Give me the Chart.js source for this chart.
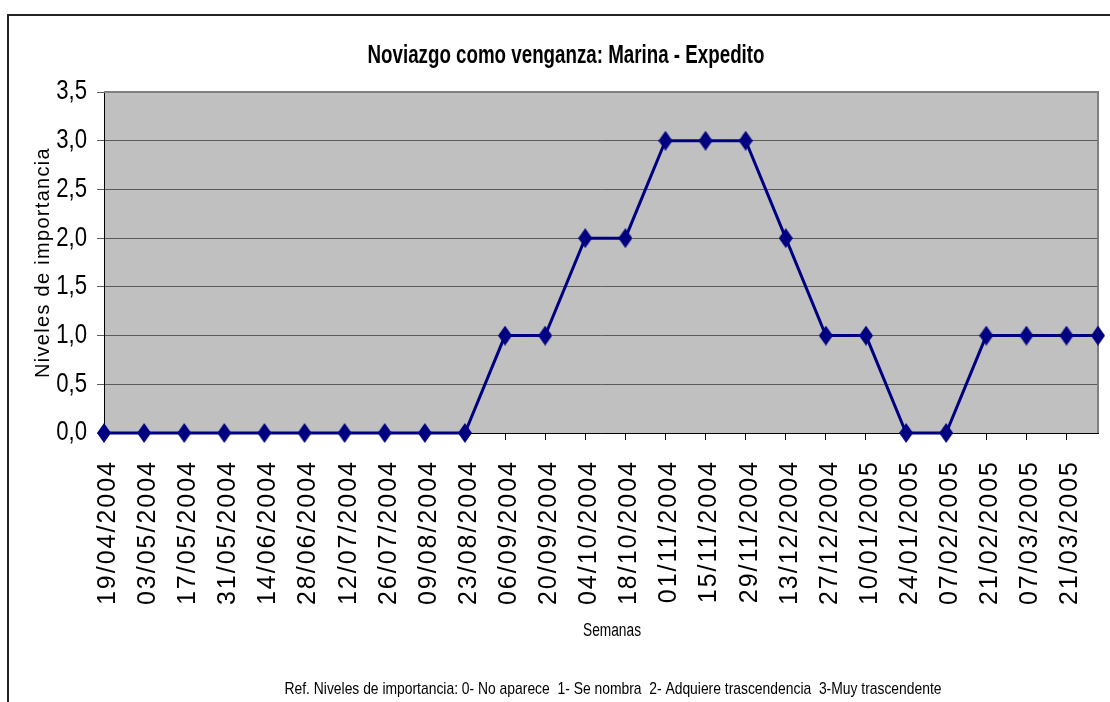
<!DOCTYPE html>
<html><head><meta charset="utf-8">
<script src="https://cdn.jsdelivr.net/npm/chart.js@4.4.1/dist/chart.umd.min.js"></script>
<style>html,body{margin:0;padding:0;background:#fff;overflow:hidden}#wrap{width:1110px;height:702px;position:relative}</style>
</head><body><div id="wrap"><canvas id="c" width="1110" height="702"></canvas></div>
<script>
const chartTitle = 'Noviazgo como venganza: Marina - Expedito';
const yAxisTitle = 'Niveles de importancia';
const xAxisTitle = 'Semanas';
const footnote = 'Ref. Niveles de importancia: 0- No aparece  1- Se nombra  2- Adquiere trascendencia  3-Muy trascendente';

const tickLabels = ['19/04/2004','03/05/2004','17/05/2004','31/05/2004','14/06/2004','28/06/2004','12/07/2004','26/07/2004','09/08/2004','23/08/2004','06/09/2004','20/09/2004','04/10/2004','18/10/2004','01/11/2004','15/11/2004','29/11/2004','13/12/2004','27/12/2004','10/01/2005','24/01/2005','07/02/2005','21/02/2005','07/03/2005','21/03/2005'];
const weeks = ['19/04/2004','03/05/2004','17/05/2004','31/05/2004','14/06/2004','28/06/2004','12/07/2004','26/07/2004','09/08/2004','23/08/2004','06/09/2004','20/09/2004','04/10/2004','18/10/2004','01/11/2004','15/11/2004','29/11/2004','13/12/2004','27/12/2004','10/01/2005','24/01/2005','07/02/2005','21/02/2005','07/03/2005','21/03/2005','01/04/2005'];
const levels = [0,0,0,0,0,0,0,0,0,0,1,1,2,2,3,3,3,2,1,1,0,0,1,1,1,1];
const yMin = 0, yMax = 3.5, yStep = 0.5;

const REG = "'Liberation Sans',Arial,sans-serif";

function dayNum(s){ const p = s.split('/').map(Number); return Date.UTC(p[2], p[1]-1, p[0]) / 86400000; }
const day0 = dayNum(weeks[0]);
const points = weeks.map((w, i) => ({x: dayNum(w) - day0, y: levels[i]}));
const tickDays = tickLabels.map(t => dayNum(t) - day0);

// diamond marker (taller than wide, as in the reference)
const marker = document.createElement('canvas');
marker.width = 14; marker.height = 20;
(function(){ const m = marker.getContext('2d'); m.fillStyle = '#000080'; m.beginPath();
  m.moveTo(7,0); m.lineTo(14,10); m.lineTo(7,20); m.lineTo(0,10); m.closePath(); m.fill(); })();

// draw text horizontally condensed to a target width (emulates Arial Narrow)
function drawFit(ctx, text, cx, y, font, w){
  ctx.save(); ctx.font = font;
  const sx = w / ctx.measureText(text).width;
  ctx.translate(cx, y); ctx.scale(sx, 1);
  ctx.textAlign = 'center'; ctx.textBaseline = 'alphabetic'; ctx.fillStyle = '#000';
  ctx.fillText(text, 0, 0); ctx.restore();
}

const decor = {
  id: 'decor',
  beforeDraw(chart){
    const {ctx, chartArea:a} = chart;
    const xs = chart.scales.x, ys = chart.scales.y;
    if (!ys._patched) {
      ys._patched = true;
      const yl = ys.drawLabels, yt = ys.drawTitle;
      ys.drawLabels = function(area){
        const c = this.ctx, xr = this.right - 17;
        c.save(); c.translate(xr, 0); c.scale(0.82, 1); c.translate(-xr, 0);
        yl.call(this, area); c.restore();
      };
      ys.drawTitle = function(){
        const c = this.ctx; c.save(); c.letterSpacing = '1.3px'; yt.call(this); c.restore();
      };
      const xl = xs.drawLabels;
      xs.drawLabels = function(area){
        const c = this.ctx; c.save(); c.letterSpacing = '2px'; xl.call(this, area); c.restore();
      };
    }
    ctx.save(); ctx.fillStyle = '#C0C0C0';
    ctx.fillRect(a.left, a.top, a.right - a.left, a.bottom - a.top); ctx.restore();
  },
  beforeDatasetsDraw(chart){
    const {ctx, chartArea:a} = chart;
    ctx.save(); ctx.strokeStyle = '#808080'; ctx.lineWidth = 2;
    ctx.beginPath(); ctx.moveTo(a.left, a.top); ctx.lineTo(a.right, a.top); ctx.lineTo(a.right, a.bottom); ctx.stroke();
    ctx.restore();
  },
  afterDraw(chart){
    const {ctx} = chart;
    ctx.save();
    ctx.strokeStyle = '#222'; ctx.lineWidth = 2;
    ctx.strokeRect(8, 15, 2000, 2000);
    ctx.restore();
    drawFit(ctx, chartTitle, 566, 63, 'bold 25px ' + REG, 397);
    drawFit(ctx, xAxisTitle, 612, 636, '18px ' + REG, 58);
    drawFit(ctx, footnote, 613, 694, '17px ' + REG, 657);
  }
};

new Chart(document.getElementById('c'), {
  type: 'line',
  data: { datasets: [{
    data: points,
    borderColor: '#000080', borderWidth: 3, tension: 0,
    pointStyle: marker, pointRadius: 7, pointHoverRadius: 7,
    backgroundColor: '#000080', clip: false
  }]},
  options: {
    responsive: false, devicePixelRatio: 1, animation: false,
    events: [],
    layout: { padding: { top: 92, right: 12, bottom: 57, left: 0 } },
    plugins: { legend: { display: false }, tooltip: { enabled: false }, title: { display: false } },
    scales: {
      x: {
        type: 'linear', min: 0, max: points[points.length-1].x,
        afterBuildTicks: s => { s.ticks = tickDays.map(v => ({value: v})); },
        afterFit: s => { s.height = 212; s.paddingLeft = 0; s.paddingRight = 0; },
        grid: { drawOnChartArea: false, drawTicks: true, tickLength: 7, color: '#000', lineWidth: 1 },
        border: { display: true, color: '#000', width: 1 },
        ticks: {
          autoSkip: false, minRotation: 90, maxRotation: 90, padding: 20, labelOffset: 4,
          color: '#000', font: { family: REG, size: 25 },
          callback: v => tickLabels[tickDays.indexOf(v)]
        },
        title: { display: false, text: xAxisTitle }
      },
      y: {
        min: yMin, max: yMax,
        afterFit: s => { s.width = 104; s.paddingTop = 0; s.paddingBottom = 0; },
        grid: { drawOnChartArea: true, drawTicks: true, tickLength: 7, color: '#5a5a5a', lineWidth: 1 },
        border: { display: true, color: '#000', width: 1 },
        ticks: { stepSize: yStep, padding: 10, color: '#000', font: { family: REG, size: 27 },
          callback: v => v.toFixed(1).replace('.', ',') },
        title: { display: true, text: yAxisTitle, color: '#000', font: { family: REG, size: 20 }, padding: { top: 31, bottom: 0 } }
      }
    }
  },
  plugins: [decor]
});
</script></body></html>
